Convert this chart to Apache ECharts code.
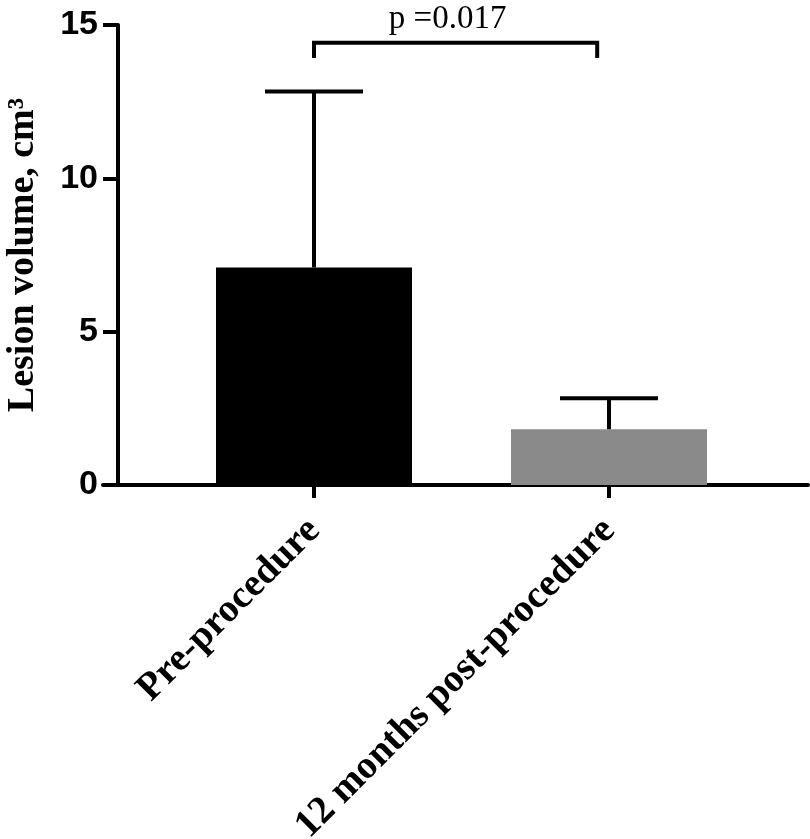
<!DOCTYPE html>
<html>
<head>
<meta charset="utf-8">
<script src="https://cdn.jsdelivr.net/npm/echarts@6/dist/echarts.min.js"></script>
<style>
    html, body { margin: 0; background: #fff; }
    #main { width: 810px; height: 839px; }
</style>
</head>
<body>
<div id="main"></div>
<script>
// data
var categories = ['Pre-procedure', '12 months post-procedure'];
var means = [7.09, 1.82];
var upperSD = [12.83, 2.83];
var barColors = ['#000000', '#8a8a8a'];
var yTicks = [0, 5, 10, 15];
var pLabel = 'p =0.017';
var bracketX = [0, 0.96];
var bracketY = 14.42;
var bracketLeg = 0.5;

var myChart = echarts.init(document.getElementById('main'));

var barData = [];
var errData = [];
for (var i = 0; i < categories.length; i++) {
    barData.push({ value: [i, means[i]], itemStyle: { color: barColors[i] } });
    errData.push([i, means[i], upperSD[i]]);
}

myChart.setOption({
    animation: false,
    grid: { left: 103, right: 2, top: 25, bottom: 354, outerBoundsMode: 'none' },
    xAxis: {
        type: 'value',
        min: -0.7153,
        max: 1.6746,
        splitLine: { show: false },
        axisLine: { onZero: false, lineStyle: { color: '#000', width: 4 } },
        axisTick: { show: true, customValues: [0, 1], length: 13, lineStyle: { color: '#000', width: 4 } },
        axisLabel: {
            customValues: [0, 1],
            rotate: 45,
            margin: 40,
            color: '#000',
            fontFamily: 'Liberation Serif',
            fontWeight: 'bold',
            fontSize: 39,
            formatter: function (v) { return categories[Math.round(v)]; }
        }
    },
    yAxis: {
        type: 'value',
        min: yTicks[0],
        max: yTicks[yTicks.length - 1],
        interval: 5,
        offset: -15,
        splitLine: { show: false },
        axisLine: { show: true, onZero: false, lineStyle: { color: '#000', width: 4 } },
        axisTick: { show: true, length: 15, lineStyle: { color: '#000', width: 4 } },
        axisLabel: {
            margin: 20,
            color: '#000',
            fontFamily: 'Liberation Sans',
            fontWeight: 'bold',
            fontSize: 34
        },
        name: 'Lesion volume, cm\u00b3',
        nameLocation: 'middle',
        nameGap: 76,
        nameTextStyle: {
            color: '#000',
            fontFamily: 'Liberation Serif',
            fontWeight: 'bold',
            fontSize: 38
        }
    },
    series: [
        {
            type: 'bar',
            barWidth: 196,
            data: barData,
            z: 2
        },
        {
            // SD whiskers, drawn upward only
            type: 'custom',
            data: errData,
            z: 3,
            renderItem: function (params, api) {
                var x = api.value(0);
                var base = api.coord([x, api.value(1)]);
                var top = api.coord([x, api.value(2)]);
                var half = 49;
                var st = { stroke: '#000', lineWidth: 4 };
                return {
                    type: 'group',
                    children: [
                        { type: 'line', shape: { x1: base[0], y1: base[1], x2: top[0], y2: top[1] }, style: st },
                        { type: 'line', shape: { x1: top[0] - half, y1: top[1], x2: top[0] + half, y2: top[1] }, style: st }
                    ]
                };
            }
        },
        {
            // significance bracket
            type: 'custom',
            data: [[bracketX[0], bracketX[1], bracketY, bracketLeg]],
            z: 3,
            renderItem: function (params, api) {
                var x0 = api.value(0), x1 = api.value(1);
                var y = api.value(2), leg = api.value(3);
                var a = api.coord([x0, y - leg]);
                var b = api.coord([x0, y]);
                var c = api.coord([x1, y]);
                var d = api.coord([x1, y - leg]);
                var mid = api.coord([(x0 + x1) / 2, y]);
                return {
                    type: 'group',
                    children: [
                        {
                            type: 'polyline',
                            shape: { points: [a, b, c, d] },
                            style: { stroke: '#000', lineWidth: 4, fill: null }
                        },
                        {
                            type: 'text',
                            x: mid[0] - 8,
                            y: mid[1] - 7,
                            style: {
                                text: pLabel,
                                fill: '#000',
                                font: '33px "Liberation Serif"',
                                textAlign: 'center',
                                textVerticalAlign: 'bottom'
                            }
                        }
                    ]
                };
            }
        }
    ]
});
</script>
</body>
</html>
